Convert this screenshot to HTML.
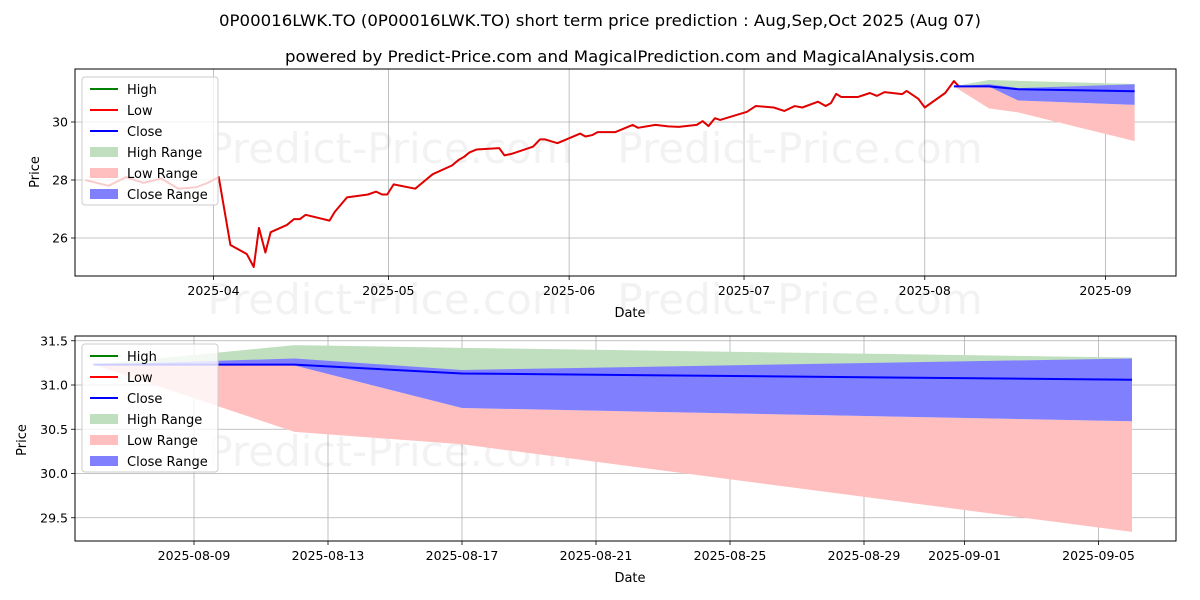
<!DOCTYPE html>
<html><head><meta charset="utf-8"><style>
html,body{margin:0;padding:0;background:#fff;}
svg{display:block;font-family:"DejaVu Sans","Liberation Sans",sans-serif;}
</style></head><body>
<svg id="chart" width="1200" height="600" viewBox="0 0 1200 600" xmlns="http://www.w3.org/2000/svg">
<text x="600" y="26" text-anchor="middle" font-size="16" textLength="762" lengthAdjust="spacingAndGlyphs">0P00016LWK.TO (0P00016LWK.TO) short term price prediction : Aug,Sep,Oct 2025 (Aug 07)</text>
<text x="630" y="62" text-anchor="middle" font-size="16" textLength="690" lengthAdjust="spacingAndGlyphs">powered by Predict-Price.com and MagicalPrediction.com and MagicalAnalysis.com</text>
<g id="top"></g>
<g id="bot"></g>
</svg>
<script>
// history data: day offset from 2025-04-01, low price
const histDays = [-22,-18,-15,-12,-9,-6,-3,-1,0.9,2.9,5.7,6.9,7.8,8.9,9.8,12.6,13.8,14.8,15.8,19.9,20.8,22.9,26.5,27.9,28.9,29.8,30.9,34.6,35.8,37.6,40.9,42.1,43.0,43.9,45.1,49.0,49.9,51.1,54.8,56.0,56.9,59.0,62.9,63.8,65.0,65.9,68.9,71.9,72.8,75.8,78.0,79.8,82.9,83.9,84.9,86.0,86.9,91.5,93.0,96.1,97.9,99.7,101.0,103.7,105.0,105.9,106.8,107.7,110.5,112.6,113.8,115.1,118.1,118.9,120.9,122.0,125.5,127.0,127.8];
const histLow = [28.0,27.8,28.1,27.9,28.05,27.7,27.75,27.9,28.1,25.76,25.45,25.0,26.35,25.5,26.2,26.45,26.65,26.65,26.8,26.6,26.9,27.4,27.5,27.6,27.5,27.5,27.85,27.7,27.9,28.2,28.5,28.7,28.8,28.95,29.05,29.1,28.85,28.9,29.15,29.4,29.4,29.27,29.6,29.5,29.55,29.65,29.65,29.9,29.8,29.9,29.85,29.83,29.9,30.03,29.86,30.13,30.07,30.35,30.55,30.5,30.38,30.55,30.5,30.7,30.55,30.65,30.97,30.86,30.86,31.0,30.9,31.03,30.96,31.07,30.8,30.5,31.0,31.41,31.24];
// forecast data: day offset from 2025-08-06
const fcDays = [0,6,11,31];
const fcClose = [31.23,31.23,31.13,31.06];
const fcHighTop = [31.23,31.45,31.42,31.31];
const fcHighBot = [31.23,31.23,31.13,31.06];
const fcCloseTop = [31.23,31.30,31.17,31.30];
const fcCloseBot = [31.23,31.22,30.74,30.59];
const fcLowTop = [31.23,31.22,30.74,30.59];
const fcLowBot = [31.23,30.47,30.33,29.34];
const topYTicks = [26,28,30];
const topXTicks = ["2025-04","2025-05","2025-06","2025-07","2025-08","2025-09"];
const topXTickDays = [0,30,61,91,122,153];
const botYTicks = [29.5,30.0,30.5,31.0,31.5];
const botXTicks = ["2025-08-09","2025-08-13","2025-08-17","2025-08-21","2025-08-25","2025-08-29","2025-09-01","2025-09-05"];
const botXTickDays = [3,7,11,15,19,23,26,30];

const NS="http://www.w3.org/2000/svg";
function mk(parent,tag,attrs,text){const e=document.createElementNS(NS,tag);for(const k in attrs)e.setAttribute(k,attrs[k]);if(text!==undefined)e.textContent=text;parent.appendChild(e);return e;}

function panel(g,L,T,R,B,xs,ys,yTicks,yFmt,xTickDays,xTicks,opts){
  yTicks.forEach((v,i)=>{
    const gl=mk(g,'line',{x1:L,x2:R,y1:ys(v),y2:ys(v),stroke:'#b0b0b0','stroke-width':0.8});
    
    
    mk(g,'line',{x1:L-4,x2:L,y1:ys(v),y2:ys(v),stroke:'#000','stroke-width':0.8});
    const t=mk(g,'text',{x:L-7,y:ys(v)+4.5,'text-anchor':'end','font-size':12.5},yFmt(v));
    
    
  });
  xTickDays.forEach((d,i)=>{
    const gl=mk(g,'line',{x1:xs(d),x2:xs(d),y1:T,y2:B,stroke:'#b0b0b0','stroke-width':0.8});
    
    
    mk(g,'line',{x1:xs(d),x2:xs(d),y1:B,y2:B+4,stroke:'#000','stroke-width':0.8});
    const t=mk(g,'text',{x:xs(d),y:B+19,'text-anchor':'middle','font-size':12.5},xTicks[i]);
    
    
  });
  opts.wm.forEach(y=>{[390,800].forEach(x=>{
    const w=mk(g,'text',{x:x,y:y,'text-anchor':'middle','font-size':42,fill:'rgba(0,0,0,0.05)'},'Predict-Price.com');
    
    
  });});
}
function band(g,xs,ys,days,top,bot,fill,name){
  let d='';
  days.forEach((v,i)=>{d+=(i?'L':'M')+xs(v)+','+ys(top[i]);});
  for(let i=days.length-1;i>=0;i--)d+='L'+xs(days[i])+','+ys(bot[i]);
  const p=mk(g,'path',{d:d+'Z',fill:fill,stroke:'none'});
  
  
}
function line(g,xs,ys,days,vals,col,name){
  const p=mk(g,'polyline',{points:days.map((d,i)=>xs(d)+','+ys(vals[i])).join(' '),fill:'none',stroke:col,'stroke-width':2,'stroke-linejoin':'round'});
  
  
}
function legend(g,x,y){
  const box=mk(g,'rect',{x:x,y:y,width:136,height:128,rx:3,fill:'rgba(255,255,255,0.8)',stroke:'#cccccc','stroke-width':1});
  
  
  const items=[['High','line','#008000'],['Low','line','#ff0000'],['Close','line','#0000ff'],['High Range','patch','#bfdfbf'],['Low Range','patch','#ffbfbf'],['Close Range','patch','#8080ff']];
  items.forEach((it,i)=>{
    const cy=y+12+i*21;
    if(it[1]==='line')mk(g,'line',{x1:x+8,x2:x+36,y1:cy,y2:cy,stroke:it[2],'stroke-width':2});
    else mk(g,'rect',{x:x+8,y:cy-5,width:28,height:10,fill:it[2]});
    const t=mk(g,'text',{x:x+45,y:cy+5,'font-size':13},it[0]);
    
    
  });
}

(function(){
  const g=document.getElementById('top');
  const L=75,T=69,R=1176,B=276;
  const xs=d=>213.5+d*5.83;
  const ys=v=>122+(30-v)*29;
  panel(g,L,T,R,B,xs,ys,topYTicks,v=>String(v),topXTickDays,topXTicks,{wm:[163,314]});
  const fd=fcDays.map(d=>d+127);
  band(g,xs,ys,fd,fcHighTop,fcHighBot,'#bfdfbf','high-range-band');
  band(g,xs,ys,fd,fcLowTop,fcLowBot,'#ffbfbf','low-range-band');
  band(g,xs,ys,fd,fcCloseTop,fcCloseBot,'#8080ff','close-range-band');
  line(g,xs,ys,histDays,histLow,'#e00000','low-line');
  line(g,xs,ys,fd,fcClose,'#0000ff','close-line');
  mk(g,'rect',{x:L,y:T,width:R-L,height:B-T,fill:'none',stroke:'#000','stroke-width':1});
  legend(g,82,77);
  const yl=mk(g,'text',{x:39,y:172,'text-anchor':'middle','font-size':13,transform:'rotate(-90 39 172)'},'Price');
  
  
  const xl=mk(g,'text',{x:630,y:317,'text-anchor':'middle','font-size':13},'Date');
  
  
})();

(function(){
  const g=document.getElementById('bot');
  const L=75,T=336,R=1176,B=541;
  const xs=d=>93.5+d*33.5;
  const ys=v=>385+(31-v)*88.5;
  panel(g,L,T,R,B,xs,ys,botYTicks,v=>v.toFixed(1),botXTickDays,botXTicks,{wm:[466]});
  band(g,xs,ys,fcDays,fcHighTop,fcHighBot,'#bfdfbf','high-range-band');
  band(g,xs,ys,fcDays,fcLowTop,fcLowBot,'#ffbfbf','low-range-band');
  band(g,xs,ys,fcDays,fcCloseTop,fcCloseBot,'#8080ff','close-range-band');
  line(g,xs,ys,fcDays,fcClose,'#0000ff','close-line');
  mk(g,'rect',{x:L,y:T,width:R-L,height:B-T,fill:'none',stroke:'#000','stroke-width':1});
  legend(g,82,344);
  const yl=mk(g,'text',{x:26,y:440,'text-anchor':'middle','font-size':13,transform:'rotate(-90 26 440)'},'Price');
  
  
  const xl=mk(g,'text',{x:630,y:582,'text-anchor':'middle','font-size':13},'Date');
  
  
})();
</script>
</body></html>
